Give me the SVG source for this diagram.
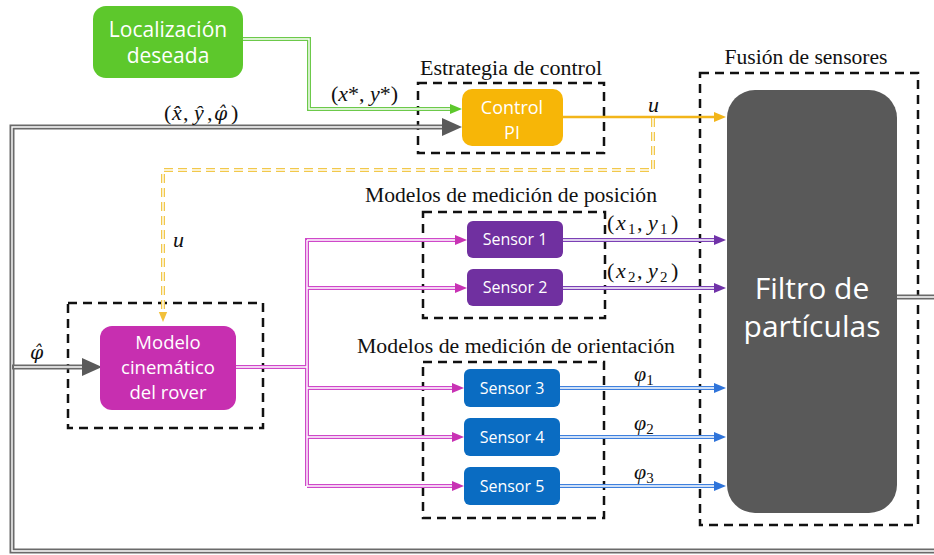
<svg xmlns="http://www.w3.org/2000/svg" width="934" height="555" viewBox="0 0 934 555">
  <style>
    .node-text { font-family: "Open Sans", "Noto Sans", sans-serif; fill: #ffffff; text-anchor: middle; }
    .title { font-family: "Liberation Serif", "DejaVu Serif", serif; font-size: 20px; fill: #111; text-anchor: middle; }
    .math { font-family: "Liberation Serif", "DejaVu Serif", serif; font-size: 22px; fill: #111; font-style: italic; }
    .greek { font-family: "DejaVu Serif", serif; font-size: 19px; }
    .up { font-style: normal; }
    .sub { font-style: normal; font-size: 15px; }
    .frame { fill: none; stroke: #111; stroke-width: 2.5; stroke-dasharray: 9 6; }
    .inner { fill: none; stroke: #ffffff; stroke-width: 1.4; }
    .gray { fill: none; stroke: #6a6a6a; stroke-width: 5; }
    .green { fill: none; stroke: #6cc94a; stroke-width: 4; }
    .orange { fill: none; stroke: #f2b51a; stroke-width: 2.5; }
    .yellow { fill: none; stroke: #f2c84b; stroke-width: 4; stroke-dasharray: 9 5; }
    .pink { fill: none; stroke: #cf48c9; stroke-width: 4; }
    .purple { fill: none; stroke: #7b40b5; stroke-width: 4; }
    .blue { fill: none; stroke: #3f80de; stroke-width: 4; }
  </style>
  <defs>
    <marker id="ah-gray" markerUnits="userSpaceOnUse" markerWidth="20" markerHeight="18" viewBox="0 0 20 18" refX="0" refY="9" orient="auto">
      <path d="M0,0 L20,9 L0,18 z" fill="#5a5a5a"/>
    </marker>
    <marker id="ah-green" markerUnits="userSpaceOnUse" markerWidth="12" markerHeight="10" viewBox="0 0 12 10" refX="0" refY="5" orient="auto">
      <path d="M0,0 L12,5 L0,10 z" fill="#5dc82c"/>
    </marker>
    <marker id="ah-orange" markerUnits="userSpaceOnUse" markerWidth="12" markerHeight="10" viewBox="0 0 12 10" refX="0" refY="5" orient="auto">
      <path d="M0,0 L12,5 L0,10 z" fill="#f2b51a"/>
    </marker>
    <marker id="ah-yellow" markerUnits="userSpaceOnUse" markerWidth="10" markerHeight="12" viewBox="0 0 12 10" refX="0" refY="5" orient="auto">
      <path d="M0,0 L12,5 L0,10 z" fill="#f2c03a"/>
    </marker>
    <marker id="ah-pink" markerUnits="userSpaceOnUse" markerWidth="12" markerHeight="10" viewBox="0 0 12 10" refX="0" refY="5" orient="auto">
      <path d="M0,0 L12,5 L0,10 z" fill="#c832b4"/>
    </marker>
    <marker id="ah-purple" markerUnits="userSpaceOnUse" markerWidth="12" markerHeight="10" viewBox="0 0 12 10" refX="0" refY="5" orient="auto">
      <path d="M0,0 L12,5 L0,10 z" fill="#7032a8"/>
    </marker>
    <marker id="ah-blue" markerUnits="userSpaceOnUse" markerWidth="12" markerHeight="10" viewBox="0 0 12 10" refX="0" refY="5" orient="auto">
      <path d="M0,0 L12,5 L0,10 z" fill="#2f74da"/>
    </marker>
  </defs>

  <rect width="934" height="555" fill="#ffffff"/>

  <!-- dashed grouping frames with their captions -->
  <g id="frames">
    <rect class="frame" x="418" y="83" width="186" height="70"/>
    <text class="title" x="511" y="75" textLength="182" lengthAdjust="spacingAndGlyphs">Estrategia de control</text>
    <rect class="frame" x="700" y="73" width="218" height="452"/>
    <text class="title" x="806" y="64" textLength="163" lengthAdjust="spacingAndGlyphs">Fusión de sensores</text>
    <rect class="frame" x="68" y="303" width="195" height="125"/>
    <rect class="frame" x="423" y="212" width="182" height="106"/>
    <text class="title" x="511" y="202" textLength="292" lengthAdjust="spacingAndGlyphs">Modelos de medición de posición</text>
    <rect class="frame" x="423" y="362" width="181" height="156"/>
    <text class="title" x="516" y="353" textLength="318" lengthAdjust="spacingAndGlyphs">Modelos de medición de orientación</text>
  </g>

  <!-- connectors -->
  <g id="connectors">
    <!-- estimated state feedback loop -->
    <path class="gray" d="M897,297 H940 V551 H12 V127 H442" marker-end="url(#ah-gray)"/>
    <path class="inner" d="M897,297 H940 V551 H12 V127 H442"/>
    <path class="gray" d="M12,367 H82" marker-end="url(#ah-gray)"/>
    <path class="inner" d="M14,367 H82"/>
    <!-- desired position -->
    <path class="green" d="M243,39 H309 V109 H450" marker-end="url(#ah-green)"/>
    <path class="inner" d="M243,39 H309 V109 H450"/>
    <!-- control action -->
    <path class="orange" d="M563,117 H714" marker-end="url(#ah-orange)"/>
    <path class="yellow" d="M653,118 V170 H163 V312" marker-end="url(#ah-yellow)"/>
    <path class="inner" d="M653,118 V170 H163 V312"/>
    <!-- rover model to sensors -->
    <path class="pink" d="M236,367 H307 M307,238 V486" />
    <path class="pink" d="M307,240 H455" marker-end="url(#ah-pink)"/>
    <path class="pink" d="M307,288 H455" marker-end="url(#ah-pink)"/>
    <path class="pink" d="M307,388 H452" marker-end="url(#ah-pink)"/>
    <path class="pink" d="M307,437 H452" marker-end="url(#ah-pink)"/>
    <path class="pink" d="M307,486 H452" marker-end="url(#ah-pink)"/>
    <path class="inner" d="M236,367 H307 M307,240 V486 M307,240 H455 M307,288 H455 M307,388 H452 M307,437 H452 M307,486 H452"/>
    <!-- sensor outputs -->
    <path class="purple" d="M563,240 H714" marker-end="url(#ah-purple)"/>
    <path class="purple" d="M563,288 H714" marker-end="url(#ah-purple)"/>
    <path class="inner" d="M563,240 H714 M563,288 H714"/>
    <path class="blue" d="M560,388 H714" marker-end="url(#ah-blue)"/>
    <path class="blue" d="M560,437 H714" marker-end="url(#ah-blue)"/>
    <path class="blue" d="M560,486 H714" marker-end="url(#ah-blue)"/>
    <path class="inner" d="M560,388 H714 M560,437 H714 M560,486 H714"/>
  </g>

  <!-- connector labels -->
  <g id="labels">
    <text class="math" y="120"><tspan class="up" x="164">(</tspan><tspan x="172">x̂</tspan><tspan class="up" x="183">,</tspan><tspan x="194">ŷ</tspan><tspan class="up" x="207">,</tspan><tspan class="greek" x="214">φ̂</tspan><tspan class="up" x="231">)</tspan></text>
    <text class="math" x="331" y="101" font-size="18"><tspan class="up">(</tspan>x<tspan class="up">*, </tspan>y<tspan class="up">*)</tspan></text>
    <text class="math" x="648" y="112">u</text>
    <text class="math" x="173" y="247">u</text>
    <text class="math greek" x="30" y="359">φ̂</text>
    <text class="math" y="230"><tspan class="up" x="607">(</tspan><tspan x="616">x</tspan><tspan class="sub" x="628" dy="4">1</tspan><tspan class="up" x="637" dy="-4">,</tspan><tspan x="648">y</tspan><tspan class="sub" x="660" dy="4">1</tspan><tspan class="up" x="671" dy="-4">)</tspan></text>
    <text class="math" y="278"><tspan class="up" x="607">(</tspan><tspan x="616">x</tspan><tspan class="sub" x="628" dy="4">2</tspan><tspan class="up" x="637" dy="-4">,</tspan><tspan x="648">y</tspan><tspan class="sub" x="660" dy="4">2</tspan><tspan class="up" x="671" dy="-4">)</tspan></text>
    <text class="math" x="634" y="381" font-size="25">φ<tspan class="sub" dy="4">1</tspan></text>
    <text class="math" x="634" y="430" font-size="25">φ<tspan class="sub" dy="4">2</tspan></text>
    <text class="math" x="634" y="479" font-size="25">φ<tspan class="sub" dy="4">3</tspan></text>
  </g>

  <g id="localizacion">
    <rect x="93" y="6" width="150" height="72" rx="13" fill="#5dc82c"/>
    <text class="node-text" x="168" y="37" font-size="21">Localización</text>
    <text class="node-text" x="168" y="63" font-size="21">deseada</text>
  </g>

  <g id="control-pi">
    <rect x="462" y="89" width="101" height="57" rx="10" fill="#f7b607"/>
    <text class="node-text" x="512" y="114" font-size="18" fill="#fff5d0">Control</text>
    <text class="node-text" x="512" y="139" font-size="18" fill="#fff5d0">PI</text>
  </g>

  <g id="filtro">
    <rect x="727" y="90" width="170" height="423" rx="28" fill="#595959"/>
    <text class="node-text" x="812" y="299" font-size="30">Filtro de</text>
    <text class="node-text" x="812" y="337" font-size="30">partículas</text>
  </g>

  <g id="modelo">
    <rect x="100" y="326" width="136" height="84" rx="12" fill="#c72fb0"/>
    <text class="node-text" x="168" y="349" font-size="18.5">Modelo</text>
    <text class="node-text" x="168" y="374" font-size="18.5">cinemático</text>
    <text class="node-text" x="168" y="399" font-size="18.5">del rover</text>
  </g>

  <g id="sensor1">
    <rect x="467" y="221" width="96" height="37" rx="6" fill="#7030a0"/>
    <text class="node-text" x="515" y="245" font-size="16">Sensor 1</text>
  </g>
  <g id="sensor2">
    <rect x="467" y="269" width="96" height="37" rx="6" fill="#7030a0"/>
    <text class="node-text" x="515" y="293" font-size="16">Sensor 2</text>
  </g>
  <g id="sensor3">
    <rect x="464" y="369" width="96" height="38" rx="6" fill="#0a6cc2"/>
    <text class="node-text" x="512" y="394" font-size="16">Sensor 3</text>
  </g>
  <g id="sensor4">
    <rect x="464" y="418" width="96" height="38" rx="6" fill="#0a6cc2"/>
    <text class="node-text" x="512" y="443" font-size="16">Sensor 4</text>
  </g>
  <g id="sensor5">
    <rect x="464" y="467" width="96" height="38" rx="6" fill="#0a6cc2"/>
    <text class="node-text" x="512" y="492" font-size="16">Sensor 5</text>
  </g>
</svg>
